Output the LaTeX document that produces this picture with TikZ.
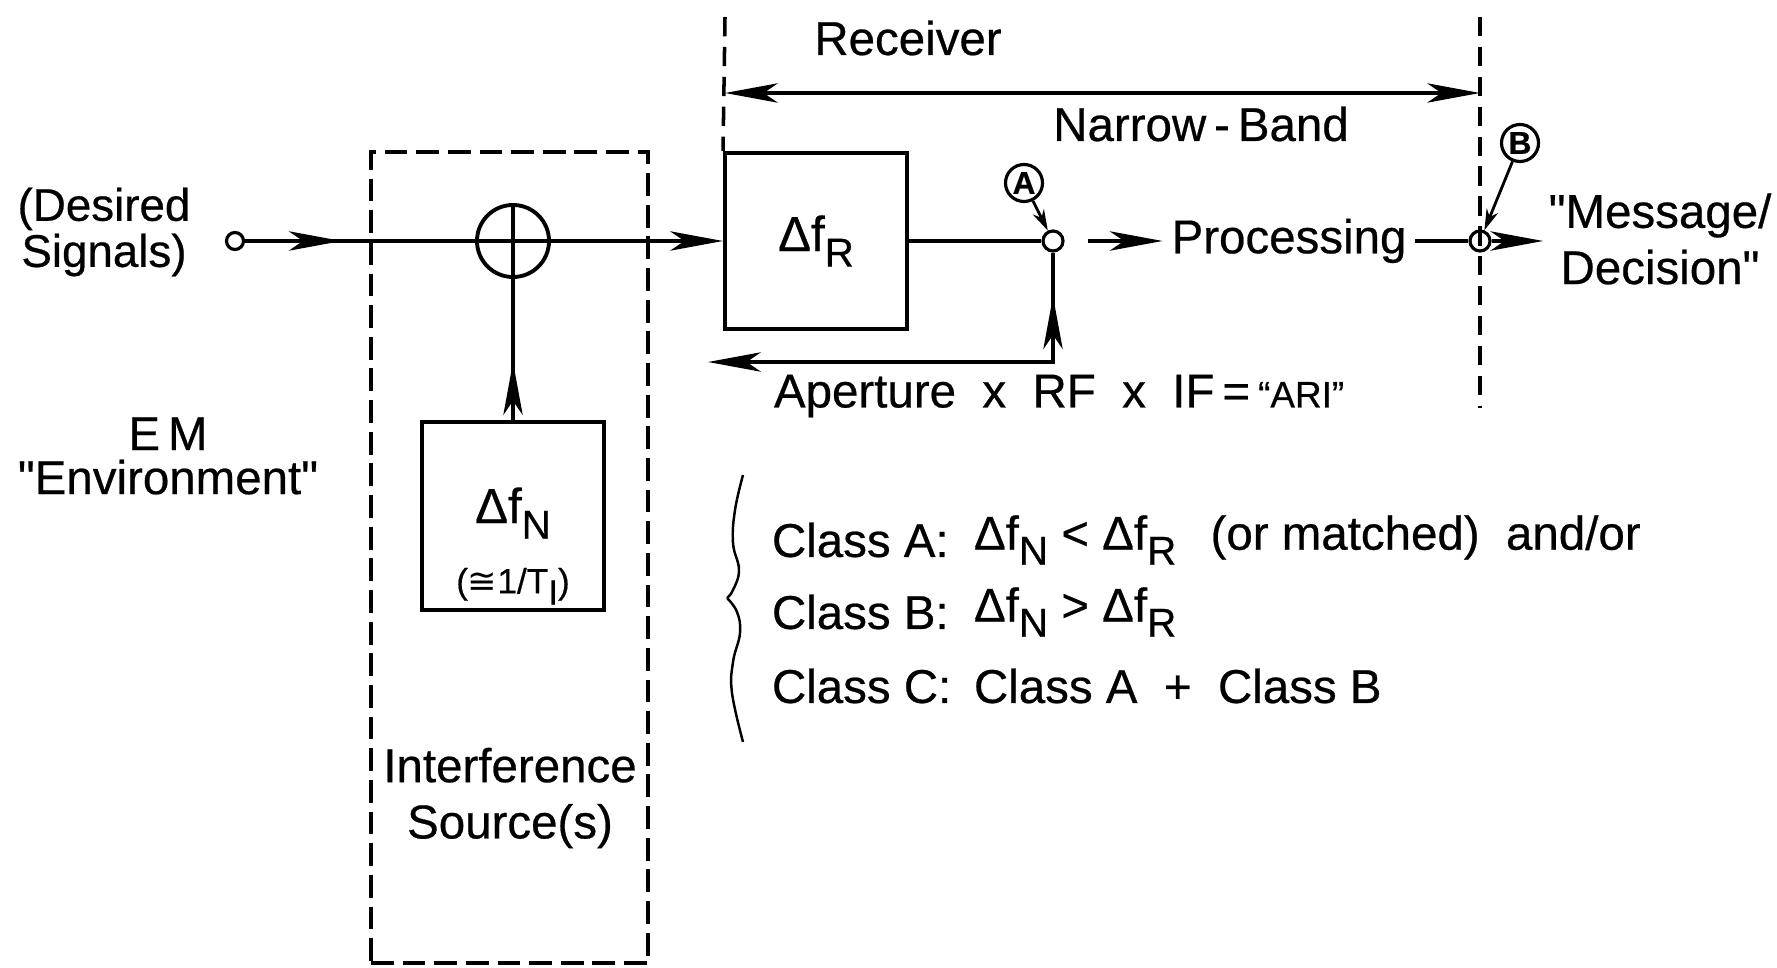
\documentclass[tikz,border=0pt]{standalone}
\usepackage{fontspec}
\setmainfont{Liberation Sans}[FakeBold=0.5]
\newfontfamily\symfont{DejaVu Sans}
\usepackage{tikz}
\usetikzlibrary{positioning, arrows.meta, decorations.markings}
\newcommand{\lowsub}[1]{\raisebox{-0.6ex}{\fontsize{11.5pt}{12pt}\selectfont #1}}

\begin{document}
\begin{tikzpicture}[
        x=0.01cm, y=-0.01cm,
        >={Stealth[length=15pt, width=5.5pt, inset=4pt]},
        line width=1.1pt,
        blk/.style={draw, line width=1.1pt, minimum width=1.82cm, inner sep=0pt},
        jnc/.style={circle, draw, fill=white, line width=0.9pt, minimum size=0.2cm, inner sep=0pt},
        tag/.style={circle, draw, line width=0.9pt, minimum size=0.37cm, inner sep=0pt, font=\fontsize{9}{9}\selectfont\bfseries},
        txt/.style={font=\fontsize{13.5}{16}\selectfont, inner sep=2pt},
        fence/.style={draw, line width=1.1pt, dash pattern=on 6.5pt off 2.5pt},
        rxline/.style={line width=1pt, dash pattern=on 5.5pt off 3pt},
        pointer/.style={line width=0.8pt, -{Stealth[length=6pt, width=3.5pt]}},
        midarrow/.style={decoration={markings, mark=at position #1 with {\arrow{>}}}, postaction={decorate}}
    ]
        \useasboundingbox (0,0) rectangle (1777,967);

        \node[fence, minimum width=2.77cm, minimum height=8.11cm] (src) at (509.5,557.5) {};
        \node[jnc, minimum size=0.17cm] (in) at (235,241) {};
        \node[circle, draw, line width=1.1pt, minimum size=0.72cm, inner sep=0pt] (sum) at (513,241) {};
        \node[blk, minimum height=1.88cm] (fN) at (513,516) {};
        \node[align=center, font=\fontsize{14}{15}\selectfont] (fNlbl) at (513,546)
            {Δf\lowsub{N}\\[5pt]{\fontsize{10}{11}\selectfont({\symfont ≅}1/T\raisebox{-0.6ex}{I})}};
        \node[blk, minimum height=1.76cm, font=\fontsize{14}{16}\selectfont] (fR) at (816,241) {Δf\lowsub{R}};
        \node[jnc] (ptA) at (1053,241) {};
        \node[jnc] (ptB) at (1480,241) {};
        \node[tag] (tagA) at (1024,183) {A};
        \node[tag] (tagB) at (1520,143) {B};

        \node[txt, align=center, font=\fontsize{13}{11}\selectfont] (desired) at (104,232) {(Desired\\Signals)};
        \node[txt, align=center, font=\fontsize{13.5}{12.5}\selectfont] (env) at (168,456) {E\,M\\\textquotedbl Environment\textquotedbl};
        \node[txt, align=center] (intf) at (510,798) {Interference\\Source(s)};
        \node[txt] (recv) at (908,38) {Receiver};
        \node[txt] (band) at (1201,124) {Narrow\,-\,Band};
        \node[txt] (proc) at (1289,241) {Processing};
        \node[txt, align=center, inner sep=1pt] (msg) at (1660,239) {\textquotedbl Message/\\Decision\textquotedbl};
        \node[txt, anchor=west] (aper) at (765,396) {Aperture\ \ x\ \ RF\ \ x\ \ IF\,=\,{\fontsize{10.5}{11}\selectfont``ARI''}};

        \node[txt, anchor=west] (clsA) at (763,540) {Class A:};
        \node[txt, anchor=west] (relA) at (965,540) {Δf\lowsub{N} < Δf\lowsub{R}\ \ \,(or matched)\ \ and/or};
        \node[txt, anchor=west] (clsB) at (763,612) {Class B:};
        \node[txt, anchor=west] (relB) at (965,612) {Δf\lowsub{N} > Δf\lowsub{R}};
        \node[txt, anchor=west] (clsC) at (763,686) {Class C:};
        \node[txt, anchor=west] (relC) at (965,686) {Class A\ \ +\ \ Class B};

        \coordinate (arrA) at (1088,241);
        \coordinate (fbCorner) at (1053,362);
        \coordinate (fbEnd) at (708,362);
        \coordinate (rxLtop) at (725,17);
        \coordinate (rxRtop) at (1480,17);
        \coordinate (rxRbot) at (1480,408);
        \coordinate (bandL) at (725,93);
        \coordinate (bandR) at (1480,93);

        \draw[midarrow=0.42] (in) -- (sum.west);
        \draw (sum.west) -- (sum.east);
        \draw (sum.north) -- (sum.south);
        \draw[->] (sum.east) -- (fR.west);
        \draw[midarrow=0.41] (fN.north) -- (sum.south);
        \draw (fR.east) -- (ptA.west);
        \draw[->] (arrA) -- (proc.west);
        \draw (proc.east) -- (ptB.west);
        \draw[->] (ptB.east) -- (ptB.east -| msg.west);
        \draw[->] (ptA.south) |- (fbEnd);
        \draw[midarrow=0.6] (fbCorner) -- (ptA.south);
        \draw[pointer] (tagA) -- (ptA);
        \draw[pointer] (tagB) -- (ptB);

        \draw[rxline] (rxLtop) -- (fR.north west);
        \draw[rxline] (rxRtop) -- (rxRbot);
        \draw[<->] (bandL) -- (bandR);

        \draw[line width=0.7pt] plot[smooth, tension=0.7] coordinates {(743,475) (735,510) (733,543) (739,570) (733,590) (727,598)};
        \draw[line width=0.7pt] plot[smooth, tension=0.7] coordinates {(727,598) (737,612) (740,633) (733,662) (732,693) (743,742)};
    \end{tikzpicture}
\end{document}
